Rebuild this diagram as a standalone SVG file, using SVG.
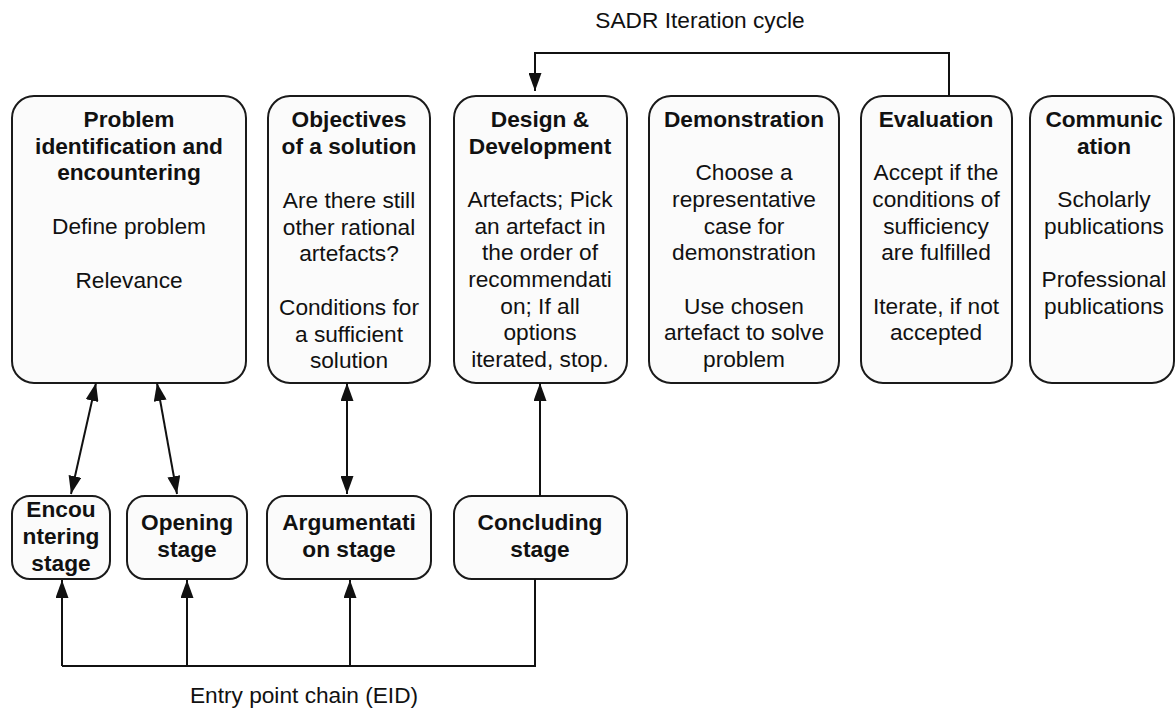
<svg xmlns="http://www.w3.org/2000/svg" width="1176" height="711" viewBox="0 0 1176 711">
  <defs>
    <marker id="head" viewBox="0 0 18 13" refX="18" refY="6.5" markerWidth="18" markerHeight="13" markerUnits="userSpaceOnUse" orient="auto-start-reverse">
      <path d="M0,0 L18,6.5 L0,13 Z" fill="#111"/>
    </marker>
    <style>
      .box { fill: #fbfbfb; stroke: #1a1a1a; stroke-width: 2; }
      .t { font-family: "Liberation Sans", Arial, Helvetica, sans-serif; font-size: 22.7px; fill: #111; text-anchor: middle; }
      .b { font-weight: bold; }
      .edge { fill: none; stroke: #111; stroke-width: 2; }
    </style>
  </defs>
  <rect width="1176" height="711" fill="#ffffff"/>

  <!-- Top row: research phases -->
  <g id="problem">
    <rect class="box" x="12" y="96" width="234" height="287" rx="22"/>
    <text class="t b" x="129" y="127">Problem</text>
    <text class="t b" x="129" y="153.5">identification and</text>
    <text class="t b" x="129" y="180">encountering</text>
    <text class="t" x="129" y="234">Define problem</text>
    <text class="t" x="129" y="288">Relevance</text>
  </g>
  <g id="objectives">
    <rect class="box" x="268" y="96" width="162" height="287" rx="22"/>
    <text class="t b" x="349" y="127">Objectives</text>
    <text class="t b" x="349" y="153.5">of a solution</text>
    <text class="t" x="349" y="208">Are there still</text>
    <text class="t" x="349" y="234.5">other rational</text>
    <text class="t" x="349" y="261">artefacts?</text>
    <text class="t" x="349" y="315">Conditions for</text>
    <text class="t" x="349" y="341.5">a sufficient</text>
    <text class="t" x="349" y="368">solution</text>
  </g>
  <g id="design">
    <rect class="box" x="454" y="96" width="173" height="287" rx="22"/>
    <text class="t b" x="540" y="127">Design &amp;</text>
    <text class="t b" x="540" y="153.5">Development</text>
    <text class="t" x="540" y="207">Artefacts; Pick</text>
    <text class="t" x="540" y="233.5">an artefact in</text>
    <text class="t" x="540" y="260">the order of</text>
    <text class="t" x="540" y="287">recommendati</text>
    <text class="t" x="540" y="313.5">on; If all</text>
    <text class="t" x="540" y="340">options</text>
    <text class="t" x="540" y="367">iterated, stop.</text>
  </g>
  <g id="demonstration">
    <rect class="box" x="649" y="96" width="190" height="287" rx="22"/>
    <text class="t b" x="744" y="127">Demonstration</text>
    <text class="t" x="744" y="180">Choose a</text>
    <text class="t" x="744" y="207">representative</text>
    <text class="t" x="744" y="233.5">case for</text>
    <text class="t" x="744" y="260">demonstration</text>
    <text class="t" x="744" y="313.5">Use chosen</text>
    <text class="t" x="744" y="340">artefact to solve</text>
    <text class="t" x="744" y="367">problem</text>
  </g>
  <g id="evaluation">
    <rect class="box" x="861" y="96" width="151" height="287" rx="22"/>
    <text class="t b" x="936" y="127">Evaluation</text>
    <text class="t" x="936" y="180">Accept if the</text>
    <text class="t" x="936" y="207">conditions of</text>
    <text class="t" x="936" y="233.5">sufficiency</text>
    <text class="t" x="936" y="260">are fulfilled</text>
    <text class="t" x="936" y="313.5">Iterate, if not</text>
    <text class="t" x="936" y="340">accepted</text>
  </g>
  <g id="communication">
    <rect class="box" x="1030" y="96" width="144" height="287" rx="22"/>
    <text class="t b" x="1104" y="127">Communic</text>
    <text class="t b" x="1104" y="153.5">ation</text>
    <text class="t" x="1104" y="207">Scholarly</text>
    <text class="t" x="1104" y="233.5">publications</text>
    <text class="t" x="1104" y="287">Professional</text>
    <text class="t" x="1104" y="313.5">publications</text>
  </g>

  <!-- Bottom row: dialogue stages -->
  <g id="encountering">
    <rect class="box" x="12" y="496" width="98" height="83" rx="18"/>
    <text class="t b" x="61" y="517">Encou</text>
    <text class="t b" x="61" y="544">ntering</text>
    <text class="t b" x="61" y="571">stage</text>
  </g>
  <g id="opening">
    <rect class="box" x="127" y="496" width="120" height="83" rx="18"/>
    <text class="t b" x="187" y="530">Opening</text>
    <text class="t b" x="187" y="557">stage</text>
  </g>
  <g id="argumentation">
    <rect class="box" x="267" y="496" width="164" height="83" rx="18"/>
    <text class="t b" x="349" y="530">Argumentati</text>
    <text class="t b" x="349" y="557">on stage</text>
  </g>
  <g id="concluding">
    <rect class="box" x="454" y="496" width="173" height="83" rx="18"/>
    <text class="t b" x="540" y="530">Concluding</text>
    <text class="t b" x="540" y="557">stage</text>
  </g>

  <!-- Connectors -->
  <g id="connectors">
    <!-- iteration loop from evaluation back to design -->
    <path class="edge" d="M949,96 V53 H535 V91" marker-end="url(#head)"/>
    <!-- stage-to-phase links -->
    <path class="edge" d="M96,383 L71,494" marker-start="url(#head)" marker-end="url(#head)"/>
    <path class="edge" d="M157,383 L177,494" marker-start="url(#head)" marker-end="url(#head)"/>
    <path class="edge" d="M347,383 V494" marker-start="url(#head)" marker-end="url(#head)"/>
    <path class="edge" d="M540,496 V383" marker-end="url(#head)"/>
    <!-- entry point chain -->
    <path class="edge" d="M535,579 V666 H62"/>
    <path class="edge" d="M62,666 V580" marker-end="url(#head)"/>
    <path class="edge" d="M187,666 V580" marker-end="url(#head)"/>
    <path class="edge" d="M350,666 V580" marker-end="url(#head)"/>
  </g>

  <!-- Labels -->
  <text class="t" x="700" y="28">SADR Iteration cycle</text>
  <text class="t" x="304" y="703">Entry point chain (EID)</text>
</svg>
